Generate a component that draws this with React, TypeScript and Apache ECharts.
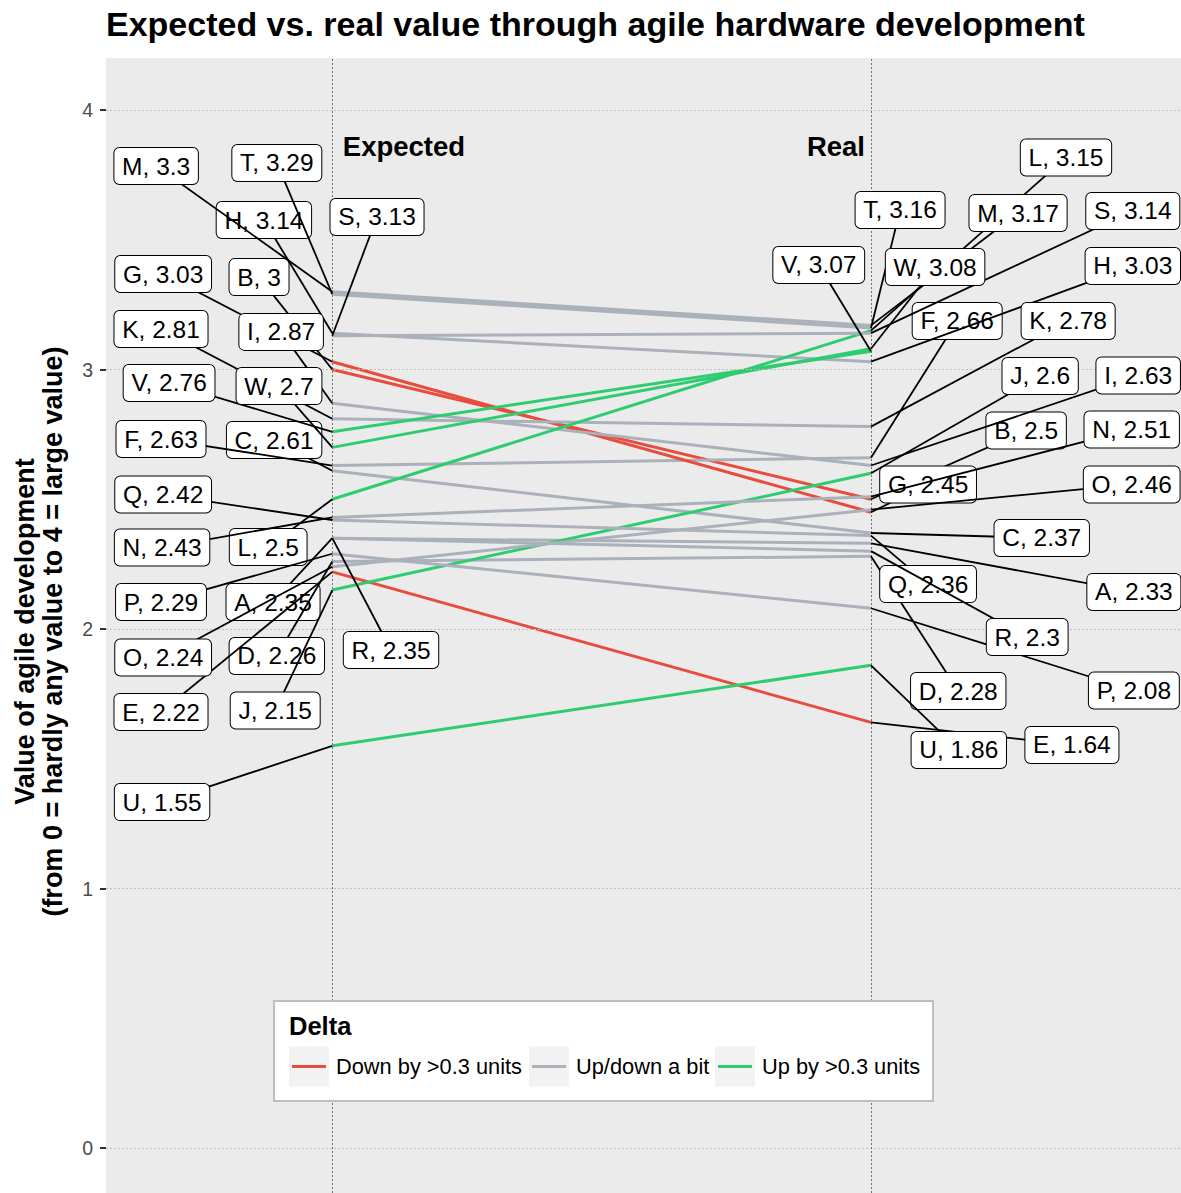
import React, { useEffect, useRef } from 'react';
import * as echarts from 'echarts';

const FONT = 'Liberation Sans, Arial, Helvetica, sans-serif';

// ---- data ----
const letters = ['A', 'B', 'C', 'D', 'E', 'F', 'G', 'H', 'I', 'J', 'K', 'L', 'M', 'N', 'O', 'P', 'Q', 'R', 'S', 'T', 'U', 'V', 'W'];
const expected = [2.35, 3, 2.61, 2.26, 2.22, 2.63, 3.03, 3.14, 2.87, 2.15, 2.81, 2.5, 3.3, 2.43, 2.24, 2.29, 2.42, 2.35, 3.13, 3.29, 1.55, 2.76, 2.7];
const real = [2.33, 2.5, 2.37, 2.28, 1.64, 2.66, 2.45, 3.03, 2.63, 2.6, 2.78, 3.15, 3.17, 2.51, 2.46, 2.08, 2.36, 2.3, 3.14, 3.16, 1.86, 3.07, 3.08];
const columnNames = ['Expected', 'Real'];
const deltaNames = ['Down by >0.3 units', 'Up/down a bit', 'Up by >0.3 units'];
const deltaColors = ['#E74C3C', '#AAB1BA', '#2ECC71'];
const deltaThreshold = 0.3;
const yTicks = [0, 1, 2, 3, 4];

// ---- repelled label anchors (data units) ----
const leftLabelX = [0.890, 0.864, 0.892, 0.897, 0.682, 0.682, 0.686, 0.873, 0.905, 0.894, 0.682, 0.881, 0.673, 0.684, 0.686, 0.682, 0.686, 1.109, 1.083, 0.897, 0.684, 0.697, 0.901];
const leftLabelY = [2.104, 3.356, 2.728, 1.896, 1.680, 2.732, 3.368, 3.576, 3.145, 1.686, 3.156, 2.316, 3.784, 2.314, 1.890, 2.104, 2.518, 1.919, 3.588, 3.796, 1.333, 2.948, 2.936];
const rightLabelX = [2.488, 2.288, 2.317, 2.162, 2.373, 2.160, 2.106, 2.486, 2.496, 2.314, 2.366, 2.362, 2.273, 2.484, 2.484, 2.488, 2.106, 2.290, 2.486, 2.054, 2.163, 1.903, 2.119];
const rightLabelY = [2.143, 2.765, 2.351, 1.761, 1.553, 3.187, 2.557, 3.399, 2.977, 2.975, 3.187, 3.817, 3.603, 2.769, 2.557, 1.763, 2.173, 1.969, 3.611, 3.615, 1.534, 3.403, 3.395];
const headerY = 3.86;

const X_MIN = 0.5799;
const X_MAX = 2.5755;
const Y_MIN = -0.1734;
const Y_MAX = 4.2004;

function deltaCategory(i: number): number {
  const d = Math.round((real[i] - expected[i]) * 100) / 100;
  if (d < -deltaThreshold) return 0;
  if (d > deltaThreshold) return 2;
  return 1;
}

function buildOption(): any {
  const slopeSeries = letters.map((l, i) => {
    const c = deltaCategory(i);
    const s: any = {
      type: 'line',
      name: deltaNames[c],
      data: [[1, expected[i]], [2, real[i]]],
      symbol: 'none',
      silent: true,
      z: 2,
      lineStyle: { color: deltaColors[c], width: 3 },
      itemStyle: { color: deltaColors[c] },
    };
    if (i === 0) {
      const gridStyle = { color: '#BDBDBD', width: 1, type: [2, 2] };
      const vStyle = { color: '#707070', width: 1, type: [2, 2] };
      s.markLine = {
        silent: true,
        symbol: ['none', 'none'],
        label: { show: false },
        animation: false,
        data: [
          ...yTicks.map((v) => ({ yAxis: v, lineStyle: gridStyle })),
          { xAxis: 1, lineStyle: vStyle },
          { xAxis: 2, lineStyle: vStyle },
        ],
      };
    }
    return s;
  });

  const labelItems = [
    ...letters.map((l, i) => [1, expected[i], leftLabelX[i], leftLabelY[i]]),
    ...letters.map((l, i) => [2, real[i], rightLabelX[i], rightLabelY[i]]),
  ];
  const labelTexts = [
    ...letters.map((l, i) => `${l}, ${expected[i]}`),
    ...letters.map((l, i) => `${l}, ${real[i]}`),
  ];

  const labelSeries = {
    type: 'custom',
    silent: true,
    z: 5,
    encode: { x: [0, 2], y: [1, 3] },
    data: labelItems,
    renderItem: (params: any, api: any) => {
      const p = api.coord([api.value(0), api.value(1)]);
      const q = api.coord([api.value(2), api.value(3)]);
      return {
        type: 'group',
        children: [
          {
            type: 'line',
            shape: { x1: p[0], y1: p[1], x2: q[0], y2: q[1] },
            style: { stroke: '#000', lineWidth: 1.8 },
          },
          {
            type: 'text',
            x: q[0],
            y: q[1],
            style: {
              text: labelTexts[params.dataIndex],
              fontSize: 24.5,
              fontFamily: FONT,
              fill: '#000',
              align: 'center',
              verticalAlign: 'middle',
              lineHeight: 21,
              backgroundColor: '#FFFFFF',
              borderColor: '#000',
              borderWidth: 1,
              borderRadius: 5,
              padding: [7.5, 7.7, 7.5, 7.7],
            },
          },
        ],
      };
    },
  };

  const headerSeries = {
    type: 'custom',
    silent: true,
    z: 4,
    encode: { x: 0, y: 1 },
    data: columnNames.map((n, k) => [k + 1, headerY]),
    renderItem: (params: any, api: any) => {
      const p = api.coord([api.value(0), api.value(1)]);
      const left = params.dataIndex === 0;
      return {
        type: 'text',
        x: p[0] + (left ? 10.5 : -6),
        y: p[1],
        style: {
          text: columnNames[params.dataIndex],
          font: `bold 27.5px ${FONT}`,
          fill: '#000',
          align: left ? 'left' : 'right',
          verticalAlign: 'middle',
        },
      };
    },
  };

  const keyX = [289, 529, 715];
  const legends = deltaNames.map((name, k) => ({
    data: [name],
    left: keyX[k] + 3,
    top: 1055.5,
    padding: 0,
    itemWidth: 34,
    itemHeight: 3,
    itemGap: 0,
    icon: 'rect',
    selectedMode: false,
    z: 20,
    itemStyle: { borderWidth: 0 },
    textStyle: { fontSize: 21.8, color: '#000', fontFamily: FONT, lineHeight: 22, padding: [0, 0, 0, 5] },
  }));

  return {
    animation: false,
    backgroundColor: '#FFFFFF',
    title: {
      text: 'Expected vs. real value through agile hardware development',
      left: 106,
      top: 7,
      padding: 0,
      textStyle: { fontSize: 34, fontWeight: 'bold', color: '#000', fontFamily: FONT, lineHeight: 34 },
    },
    grid: {
      left: 106,
      top: 58,
      right: 0,
      bottom: 0,
      show: true,
      backgroundColor: '#EBEBEB',
      borderWidth: 0,
    },
    xAxis: { type: 'value', min: X_MIN, max: X_MAX, show: false },
    yAxis: {
      type: 'value',
      min: Y_MIN,
      max: Y_MAX,
      axisLine: { show: false },
      splitLine: { show: false },
      axisTick: { show: true, customValues: yTicks, length: 6, lineStyle: { color: '#333333', width: 2 } },
      axisLabel: { customValues: yTicks, margin: 13, fontSize: 19.5, color: '#4D4D4D', fontFamily: FONT },
    },
    legend: legends,
    graphic: [
      {
        type: 'text',
        x: 39,
        y: 631.5,
        rotation: Math.PI / 2,
        z: 10,
        style: {
          text: 'Value of agile development\n(from 0 = hardly any value to 4 = large value)',
          font: `bold 27px ${FONT}`,
          fill: '#000',
          align: 'center',
          verticalAlign: 'middle',
          lineHeight: 28,
        },
      },
      {
        type: 'rect',
        z: 15,
        shape: { x: 274, y: 1001, width: 659, height: 100 },
        style: { fill: '#FFFFFF', stroke: '#BEBEBE', lineWidth: 2 },
      },
      ...keyX.map((x) => ({
        type: 'rect',
        z: 16,
        shape: { x, y: 1046.5, width: 40, height: 40 },
        style: { fill: '#F2F2F2' },
      })),
      {
        type: 'text',
        x: 289,
        y: 1025.5,
        z: 16,
        style: {
          text: 'Delta',
          font: `bold 25.5px ${FONT}`,
          fill: '#000',
          verticalAlign: 'middle',
        },
      },
    ],
    series: [...slopeSeries, headerSeries, labelSeries],
  };
}

export default function App() {
  const ref = useRef<HTMLDivElement>(null);
  useEffect(() => {
    if (!ref.current) return;
    const chart = echarts.init(ref.current, null, { renderer: 'svg' });
    chart.setOption(buildOption());
    return () => chart.dispose();
  }, []);
  return <div ref={ref} style={{ position: 'absolute', left: 0, top: 0, width: 1181, height: 1193 }} />;
}
